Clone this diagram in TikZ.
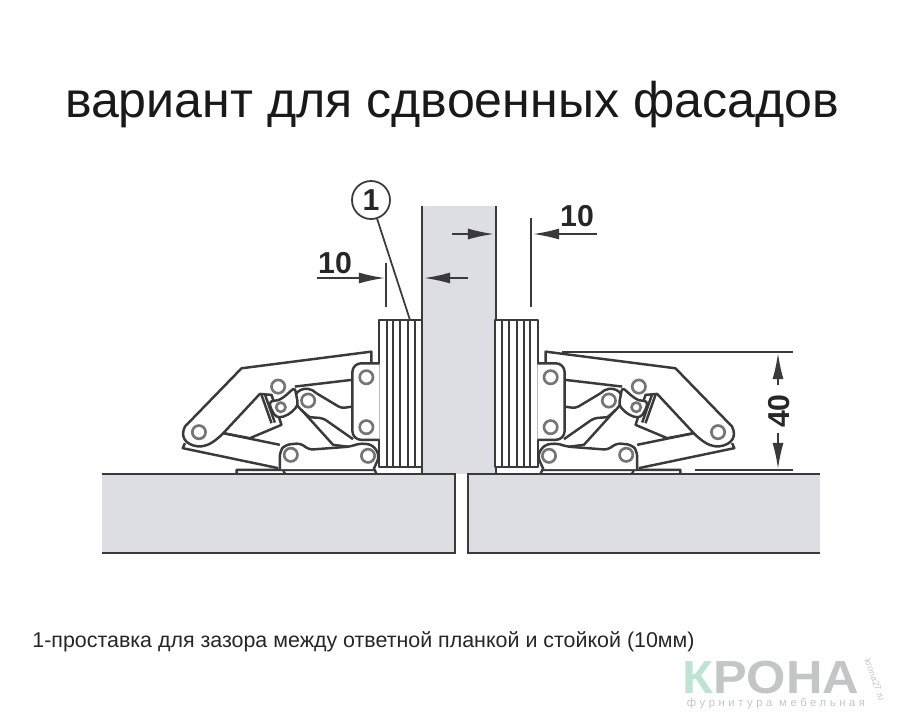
\documentclass[tikz,border=0pt]{standalone}
\usepackage{fontspec}
\setmainfont{Liberation Sans}
\usetikzlibrary{arrows.meta}
\definecolor{panelgray}{HTML}{DDDEE3}
\definecolor{inkgray}{HTML}{3A3A3C}
\definecolor{logogreen}{HTML}{BFE3D3}
\definecolor{logogray}{HTML}{C3C6C6}
\tikzset{
  ink/.style={draw=inkgray, line width=0.7pt, line join=round},
  heavy ink/.style={draw=inkgray, line width=0.75pt},
  thin ink/.style={draw=inkgray, line width=0.4pt},
  pin/.style={draw=inkgray!70, line width=0.75pt, fill=white},
  dim/.style={draw=inkgray, line width=0.5pt},
  dimarrow/.style={dim, -{Latex[length=2.6mm,width=1.1mm]}},
  dimtext/.style={font=\bfseries\fontsize{8.6pt}{8.6pt}\selectfont, text=black!85, inner sep=0pt},
}
% one spacer and hinge, in crop units with the post on the right
\newcommand{\hingeset}{
  \draw[ink, fill=white] (379, 320) rectangle (422, 467);
  \foreach \xs in {387, 393, 400, 408, 415} {
    \draw[thin ink] (\xs, 320) -- (\xs, 467);
  }
  \begin{scope}[shift={(170, 330)}, x=0.00333cm, y=-0.00333cm]
    % plate
    \draw[ink] (200, 432) -- (200, 420) -- (615, 420) -- (620, 432);
    \draw[ink] (340, 420) -- (345, 432);
    % outer arm
    \draw[ink, fill=white] (605, 100) -- (605, 65) -- (215, 115) -- (45, 290)
      .. controls (30, 320) and (45, 345) .. (85, 350) .. controls (110, 350) and (130, 340) .. (160, 310)
      -- (270, 192) -- (305, 195) -- (335, 285) -- (240, 325) -- (160, 310);
    \draw[ink] (160, 310) -- (330, 345);
    \draw[ink] (45, 340) -- (38, 355) -- (325, 415);
    \draw[ink] (275, 195) -- (305, 280);
    \draw[ink] (285, 193) -- (315, 278);
    % cup arm
    \draw[ink] (375, 170) -- (545, 150);
    \draw[ink, fill=white, rounded corners=2.5pt] (630, 100) -- (548, 100) -- (548, 330) -- (630, 330);
    % long links
    \draw[ink, rounded corners=1pt] (440, 190) -- (515, 235) -- (548, 230);
    \draw[ink, rounded corners=1pt] (420, 262) -- (460, 265) -- (550, 328);
    \draw[ink] (395, 240) -- (490, 345) -- (545, 352);
    \draw[ink] (440, 190) .. controls (410, 160) and (365, 185) .. (378, 215) .. controls (382, 230) and (390, 238) .. (420, 262);
    % small link
    \draw[ink, fill=white, rounded corners=1pt] (300, 212) .. controls (330, 215) and (350, 195) .. (375, 172) -- (385, 225)
      .. controls (365, 250) and (345, 262) .. (318, 262) -- (300, 230) -- cycle;
    % lower link
    \draw[ink, fill=white, rounded corners=1.5pt] (330, 418) -- (330, 365) -- (345, 345) -- (395, 340) -- (415, 360)
      -- (545, 350) -- (570, 340) -- (610, 345) -- (630, 378) -- (612, 418);
    % pins
    \foreach \xp/\yp in {87/307, 325/170, 415/212, 590/142, 590/292, 363/375, 595/378} {
      \draw[pin] (\xp, \yp) circle (20);
    }
    \draw[pin] (333, 232) circle (14);
  \end{scope}
}
\begin{document}
\begin{tikzpicture}[x=0.01cm, y=-0.01cm]
  \useasboundingbox (0, 0) rectangle (900, 724);
  \node[anchor=center, inner sep=0pt, font=\fontsize{14.25pt}{14.25pt}\selectfont, text=black!90] (title) at (452, 105) {вариант для сдвоенных фасадов};
  % post and cabinet panels
  \fill[panelgray] (422, 206) rectangle (496, 474);
  \draw[heavy ink] (422, 206) -- (422, 474);
  \draw[heavy ink] (496, 206) -- (496, 474);
  \fill[panelgray] (102, 474) rectangle (455, 553);
  \draw[heavy ink] (102, 474) -- (455, 474) -- (455, 553) -- (102, 553);
  \fill[panelgray] (468, 474) rectangle (820, 553);
  \draw[heavy ink] (820, 474) -- (468, 474) -- (468, 553) -- (820, 553);
  % hinges
  \hingeset
  \begin{scope}[shift={(917, 0)}, xscale=-1]
    \hingeset
  \end{scope}
  % callout
  \node[circle, draw=inkgray, line width=0.5pt, minimum size=3.8mm, inner sep=0pt, font=\bfseries\fontsize{8.6pt}{8.6pt}\selectfont, text=black!85] (callout) at (371, 200) {1};
  \coordinate (calloutend) at (410, 320);
  \draw[dim] (callout) -- (calloutend);
  % dimension 10, left
  \coordinate (leftedgea) at (386, 263);
  \coordinate (leftedgeb) at (386, 307);
  \coordinate (leftstart) at (317, 278);
  \coordinate (lefttip) at (385, 278);
  \coordinate (poststart) at (468, 278);
  \coordinate (posttip) at (424, 278);
  \draw[dim] (leftedgea) -- (leftedgeb);
  \draw[dimarrow] (leftstart) -- (lefttip);
  \draw[dimarrow] (poststart) -- (posttip);
  \node[dimtext] (leftten) at (335, 263) {10};
  % dimension 10, right
  \coordinate (rightedgea) at (531, 218);
  \coordinate (rightedgeb) at (531, 307);
  \coordinate (rightstart) at (597, 234);
  \coordinate (righttip) at (533, 234);
  \coordinate (postbstart) at (452, 234);
  \coordinate (postbtip) at (494, 234);
  \draw[dim] (rightedgea) -- (rightedgeb);
  \draw[dimarrow] (rightstart) -- (righttip);
  \draw[dimarrow] (postbstart) -- (postbtip);
  \node[dimtext] (rightten) at (577, 216) {10};
  % dimension 40
  \coordinate (topa) at (562, 352);
  \coordinate (topb) at (793, 352);
  \coordinate (bota) at (695, 470);
  \coordinate (botb) at (793, 470);
  \draw[dim] (topa) -- (topb);
  \draw[dim] (bota) -- (botb);
  \node[dimtext, rotate=90] (forty) at (779, 411) {40};
  \coordinate (upstart) at (778, 385);
  \coordinate (uptip) at (778, 353);
  \coordinate (downstart) at (778, 433);
  \coordinate (downtip) at (778, 469);
  \draw[dimarrow] (upstart) -- (uptip);
  \draw[dimarrow] (downstart) -- (downtip);
  % footer
  \node[anchor=center, inner sep=0pt, font=\fontsize{6.09pt}{6.09pt}\selectfont, text=black!85] (note) at (363.5, 642) {1-проставка для зазора между ответной планкой и стойкой (10мм)};
  % logo
  \node[anchor=base west, inner sep=0pt, xscale=1.09, font=\bfseries\fontsize{13.2pt}{13.2pt}\selectfont] (logo) at (682, 693) {\textcolor{logogreen}{К}\textcolor{logogray}{РОНА}};
  \node[anchor=center, inner sep=0pt, font=\addfontfeature{LetterSpace=32}\fontsize{3.2pt}{3.2pt}\selectfont, text=logogray] (logosub) at (776, 704) {фурнитура мебельная};
  \node[anchor=center, inner sep=0pt, rotate=-70, font=\fontsize{2.6pt}{2.6pt}\selectfont, text=logogray] (logosite) at (875, 680) {krona27.ru};
\end{tikzpicture}
\end{document}
